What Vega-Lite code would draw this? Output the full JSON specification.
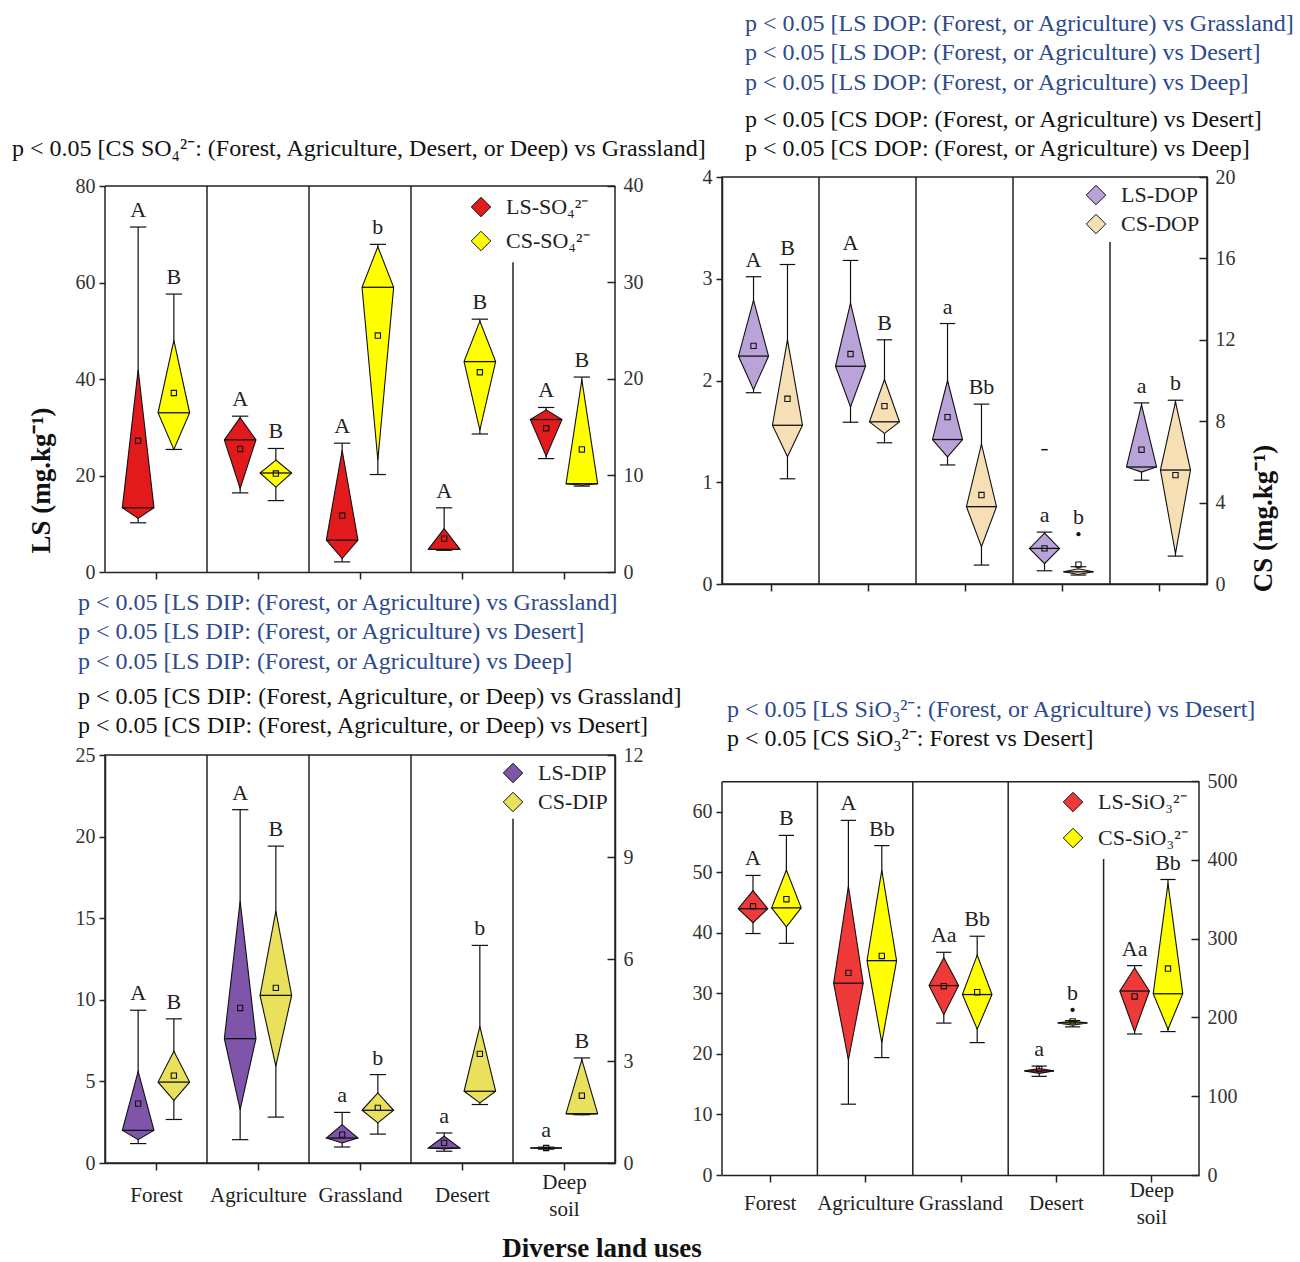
{
  "$schema": "https://vega.github.io/schema/vega-lite/v6.json",
  "padding": {"left": 12, "top": 10, "right": 0, "bottom": 0},
  "background": "white",
  "datasets": {
    "box": [
      {"ion":"SO4","land":"Forest","side":"LS","min":10.2,"q1":11.1,"med":13.3,"q3":41.9,"max":71.5,"mean":27.2,"letter":"A"},
      {"ion":"SO4","land":"Forest","side":"CS","min":12.7,"q1":12.7,"med":16.5,"q3":24.0,"max":28.8,"mean":18.55,"letter":"B"},
      {"ion":"SO4","land":"Agriculture","side":"LS","min":16.4,"q1":17.3,"med":27.4,"q3":32.0,"max":32.3,"mean":25.5,"letter":"A"},
      {"ion":"SO4","land":"Agriculture","side":"CS","min":7.4,"q1":8.8,"med":10.26,"q3":11.6,"max":12.8,"mean":10.2,"letter":"B"},
      {"ion":"SO4","land":"Grassland","side":"LS","min":2.1,"q1":2.8,"med":6.6,"q3":25.2,"max":26.7,"mean":11.7,"letter":"A"},
      {"ion":"SO4","land":"Grassland","side":"CS","min":10.1,"q1":11.6,"med":29.5,"q3":33.7,"max":33.95,"mean":24.5,"letter":"b"},
      {"ion":"SO4","land":"Desert","side":"LS","min":4.5,"q1":4.6,"med":4.7,"q3":9.0,"max":13.3,"mean":6.9,"letter":"A"},
      {"ion":"SO4","land":"Desert","side":"CS","min":14.3,"q1":14.7,"med":21.8,"q3":26.0,"max":26.2,"mean":20.7,"letter":"B"},
      {"ion":"SO4","land":"Deep soil","side":"LS","min":23.5,"q1":24.0,"med":31.6,"q3":33.6,"max":34.1,"mean":29.8,"letter":"A"},
      {"ion":"SO4","land":"Deep soil","side":"CS","min":8.9,"q1":9.0,"med":9.15,"q3":19.9,"max":20.2,"mean":12.7,"letter":"B"},

      {"ion":"DOP","land":"Forest","side":"LS","min":1.88,"q1":1.91,"med":2.24,"q3":2.79,"max":3.02,"mean":2.34,"letter":"A"},
      {"ion":"DOP","land":"Forest","side":"CS","min":5.17,"q1":6.25,"med":7.8,"q3":12.0,"max":15.7,"mean":9.1,"letter":"B"},
      {"ion":"DOP","land":"Agriculture","side":"LS","min":1.59,"q1":1.74,"med":2.14,"q3":2.76,"max":3.18,"mean":2.26,"letter":"A"},
      {"ion":"DOP","land":"Agriculture","side":"CS","min":6.94,"q1":7.4,"med":7.97,"q3":10.05,"max":12.0,"mean":8.74,"letter":"B"},
      {"ion":"DOP","land":"Grassland","side":"LS","min":1.17,"q1":1.25,"med":1.42,"q3":2.0,"max":2.56,"mean":1.64,"letter":"a"},
      {"ion":"DOP","land":"Grassland","side":"CS","min":0.93,"q1":1.83,"med":3.8,"q3":6.87,"max":8.84,"mean":4.37,"letter":"Bb"},
      {"ion":"DOP","land":"Desert","side":"LS","min":0.13,"q1":0.2,"med":0.35,"q3":0.5,"max":0.51,"mean":0.35,"letter":"a"},
      {"ion":"DOP","land":"Desert","side":"CS","min":0.44,"q1":0.47,"med":0.6,"q3":0.75,"max":0.85,"mean":0.95,"letter":"b"},
      {"ion":"DOP","land":"Deep soil","side":"LS","min":1.02,"q1":1.1,"med":1.15,"q3":1.76,"max":1.78,"mean":1.32,"letter":"a"},
      {"ion":"DOP","land":"Deep soil","side":"CS","min":1.37,"q1":1.5,"med":5.6,"q3":8.95,"max":9.03,"mean":5.35,"letter":"b"},

      {"ion":"DIP","land":"Forest","side":"LS","min":1.19,"q1":1.43,"med":2.0,"q3":5.62,"max":9.36,"mean":3.64,"letter":"A"},
      {"ion":"DIP","land":"Forest","side":"CS","min":1.28,"q1":1.84,"med":2.38,"q3":3.29,"max":4.24,"mean":2.57,"letter":"B"},
      {"ion":"DIP","land":"Agriculture","side":"LS","min":1.43,"q1":3.27,"med":7.62,"q3":16.05,"max":21.65,"mean":9.5,"letter":"A"},
      {"ion":"DIP","land":"Agriculture","side":"CS","min":1.35,"q1":2.85,"med":4.93,"q3":7.41,"max":9.32,"mean":5.15,"letter":"B"},
      {"ion":"DIP","land":"Grassland","side":"LS","min":0.98,"q1":1.23,"med":1.53,"q3":2.35,"max":3.1,"mean":1.74,"letter":"a"},
      {"ion":"DIP","land":"Grassland","side":"CS","min":0.85,"q1":1.18,"med":1.55,"q3":2.06,"max":2.6,"mean":1.62,"letter":"b"},
      {"ion":"DIP","land":"Desert","side":"LS","min":0.72,"q1":0.86,"med":0.92,"q3":1.64,"max":1.84,"mean":1.23,"letter":"a"},
      {"ion":"DIP","land":"Desert","side":"CS","min":1.72,"q1":1.77,"med":2.11,"q3":4.02,"max":6.4,"mean":3.21,"letter":"b"},
      {"ion":"DIP","land":"Deep soil","side":"LS","min":0.85,"q1":0.88,"med":0.92,"q3":0.95,"max":0.97,"mean":0.92,"letter":"a"},
      {"ion":"DIP","land":"Deep soil","side":"CS","min":1.42,"q1":1.42,"med":1.45,"q3":3.04,"max":3.09,"mean":1.98,"letter":"B"},

      {"ion":"SiO3","land":"Forest","side":"LS","min":39.9,"q1":41.7,"med":44.0,"q3":47.0,"max":49.5,"mean":44.4,"letter":"A"},
      {"ion":"SiO3","land":"Forest","side":"CS","min":294,"q1":315,"med":339,"q3":387,"max":431,"mean":350,"letter":"B"},
      {"ion":"SiO3","land":"Agriculture","side":"LS","min":11.7,"q1":19.0,"med":31.7,"q3":47.7,"max":58.6,"mean":33.4,"letter":"A"},
      {"ion":"SiO3","land":"Agriculture","side":"CS","min":149,"q1":168,"med":272,"q3":387,"max":418,"mean":278,"letter":"Bb"},
      {"ion":"SiO3","land":"Grassland","side":"LS","min":25.1,"q1":26.5,"med":31.3,"q3":35.9,"max":36.8,"mean":31.2,"letter":"Aa"},
      {"ion":"SiO3","land":"Grassland","side":"CS","min":168,"q1":185,"med":229,"q3":279,"max":303,"mean":232,"letter":"Bb"},
      {"ion":"SiO3","land":"Desert","side":"LS","min":16.3,"q1":16.8,"med":17.2,"q3":17.6,"max":18.0,"mean":17.5,"letter":"a"},
      {"ion":"SiO3","land":"Desert","side":"CS","min":188,"q1":190,"med":193,"q3":195,"max":196,"mean":195,"letter":"b"},
      {"ion":"SiO3","land":"Deep soil","side":"LS","min":23.3,"q1":23.7,"med":30.4,"q3":34.2,"max":34.6,"mean":29.5,"letter":"Aa"},
      {"ion":"SiO3","land":"Deep soil","side":"CS","min":182,"q1":185,"med":230,"q3":370,"max":375,"mean":262,"letter":"Bb"}
    ],
    "out": [
      {"key":"DOP|LS|Desert","ion":"DOP","land":"Desert","side":"LS","value":1.32},
      {"key":"DOP|CS|Desert","ion":"DOP","land":"Desert","side":"CS","value":2.45},
      {"key":"SiO3|CS|Desert","ion":"SiO3","land":"Desert","side":"CS","value":209.5}
    ]
  },
  "title": {"text": "Diverse land uses", "orient": "bottom", "anchor": "middle", "frame": "bounds", "fontSize": 27, "fontWeight": "bold", "color": "#111", "dx": -52, "offset": 9},
  "columns": 2,
  "bounds": "flush",
  "align": "all",
  "spacing": {"row": 158, "column": 107},
  "resolve": {"scale": {"color": "independent", "y": "independent", "x": "independent"}, "legend": {"color": "independent"}},
  "concat": [
    {
      "width": 510, "height": 395,
      "view": {"stroke": null},
      "title": {"text": "p < 0.05 [CS SO₄²⁻: (Forest, Agriculture, Desert, or Deep) vs Grassland]", "color": "#111", "dx": -93, "offset": 15},
      "layer": [
        {"data": {"values": [{"b":-0.5},{"b":0.5},{"b":1.5},{"b":2.5},{"b":4.5}]},
         "mark": {"type":"rule","color":"#222","strokeWidth":1.5},
         "encoding": {"x": {"field":"b","type":"quantitative","scale":{"domain":[-0.5,4.5],"nice":false,"zero":false},"axis":{"values":[0,1,2,3,4],"labels":false,"title":null,"tickSize":7}},
                      "y": {"datum":80,"type":"quantitative","scale":{"domain":[0,81.87],"nice":false},"axis":null},
                      "y2": {"datum":0}}},
        {"data": {"values": [{"a":1}]},
         "mark": {"type":"rule","color":"#222","strokeWidth":1.5},
         "encoding": {"x": {"datum":-0.5,"type":"quantitative","scale":{"domain":[-0.5,4.5],"nice":false,"zero":false}},
                      "x2": {"datum":4.5},
                      "y": {"datum":80,"type":"quantitative","scale":{"domain":[0,81.87],"nice":false},"axis":null}}},
        {"data": {"values": [{"a":1}]},
         "mark": {"type":"rule","color":"#222","strokeWidth":1.5},
         "encoding": {"x": {"datum":3.5,"type":"quantitative","scale":{"domain":[-0.5,4.5],"nice":false,"zero":false}},
                      "y": {"datum":64.2,"type":"quantitative","scale":{"domain":[0,81.87],"nice":false},"axis":null},
                      "y2": {"datum":0}}},
        {"data": {"name":"box"},
         "transform": [
           {"filter":"datum.ion == 'SO4' && datum.side == 'LS'"},
           {"calculate":"indexof(['Forest','Agriculture','Grassland','Desert','Deep soil'], datum.land) - 0.175","as":"pos"},
           {"calculate":"datum.pos - 0.08","as":"cl"},{"calculate":"datum.pos + 0.08","as":"cr"},
           {"calculate":"datum.pos - 0.155","as":"ml"},{"calculate":"datum.pos + 0.155","as":"mr"}
         ],
         "layer": [
           {"mark":{"type":"rule","color":"#111","strokeWidth":1.2},
            "encoding":{"x":{"field":"pos","type":"quantitative","scale":{"domain":[-0.5,4.5],"nice":false,"zero":false}},
                        "y":{"field":"min","type":"quantitative","scale":{"domain":[0,81.87],"nice":false},"axis":{"orient":"left","values":[0,20,40,60,80],"format":"d","domain":false,"title":"LS (mg.kg⁻¹)","tickSize":6,"labelPadding":4,"titleFontSize":27,"titleFontWeight":"bold","titlePadding":20,"titleY":303}},
                        "y2":{"field":"max"}}},
           {"transform":[{"fold":["min","max"],"as":["ck","cv"]}],
            "mark":{"type":"rule","color":"#111","strokeWidth":1.2},
            "encoding":{"x":{"field":"cl","type":"quantitative","scale":{"domain":[-0.5,4.5],"nice":false,"zero":false}},"x2":{"field":"cr"},
                        "y":{"field":"cv","type":"quantitative","scale":{"domain":[0,81.87],"nice":false}}}},
           {"transform":[{"fold":["q1","med","q3"],"as":["k","v"]},{"calculate":"datum.k == 'med' ? 0.155 : 0","as":"hw"},{"calculate":"datum.pos - datum.hw","as":"xl"},{"calculate":"datum.pos + datum.hw","as":"xr"}],
            "mark":{"type":"area","orient":"horizontal","stroke":"#111","strokeWidth":1.1,"opacity":1},
            "encoding":{"y":{"field":"v","type":"quantitative","scale":{"domain":[0,81.87],"nice":false}},
                        "x":{"field":"xl","type":"quantitative","scale":{"domain":[-0.5,4.5],"nice":false,"zero":false}},"x2":{"field":"xr"},
                        "detail":{"field":"land"},
                        "color":{"field":"side","type":"nominal","scale":{"domain":["LS","CS"],"range":["#e31a1c","#ffff00"]},
                                 "legend":{"title":null,"orient":"none","legendX":365,"legendY":19,"symbolType":"diamond","symbolSize":380,"symbolStrokeColor":"#111","symbolStrokeWidth":1,"labelFontSize":22,"labelFont":"Liberation Serif","labelColor":"#222","rowPadding":10,"labelOffset":14,"labelExpr":"datum.label == 'LS' ? 'LS-SO₄²⁻' : 'CS-SO₄²⁻'"}}}},
           {"mark":{"type":"rule","color":"#111","strokeWidth":1.3},
            "encoding":{"x":{"field":"ml","type":"quantitative","scale":{"domain":[-0.5,4.5],"nice":false,"zero":false}},"x2":{"field":"mr"},
                        "y":{"field":"med","type":"quantitative","scale":{"domain":[0,81.87],"nice":false}}}},
           {"mark":{"type":"point","shape":"square","size":28,"filled":false,"stroke":"#111","strokeWidth":1.1,"opacity":1},
            "encoding":{"x":{"field":"pos","type":"quantitative","scale":{"domain":[-0.5,4.5],"nice":false,"zero":false}},
                        "y":{"field":"mean","type":"quantitative","scale":{"domain":[0,81.87],"nice":false}}}},
           {"mark":{"type":"text","baseline":"bottom","dy":-5,"fontSize":22,"color":"#222"},
            "encoding":{"x":{"field":"pos","type":"quantitative","scale":{"domain":[-0.5,4.5],"nice":false,"zero":false}},
                        "y":{"field":"max","type":"quantitative","scale":{"domain":[0,81.87],"nice":false}},
                        "text":{"field":"letter"}}}
         ]},
        {"data": {"name":"box"},
         "transform": [
           {"filter":"datum.ion == 'SO4' && datum.side == 'CS'"},
           {"calculate":"indexof(['Forest','Agriculture','Grassland','Desert','Deep soil'], datum.land) + 0.175","as":"pos"},
           {"calculate":"datum.pos - 0.08","as":"cl"},{"calculate":"datum.pos + 0.08","as":"cr"},
           {"calculate":"datum.pos - 0.155","as":"ml"},{"calculate":"datum.pos + 0.155","as":"mr"}
         ],
         "layer": [
           {"mark":{"type":"rule","color":"#111","strokeWidth":1.2},
            "encoding":{"x":{"field":"pos","type":"quantitative","scale":{"domain":[-0.5,4.5],"nice":false,"zero":false}},
                        "y":{"field":"min","type":"quantitative","scale":{"domain":[0,40.93],"nice":false},"axis":{"orient":"right","values":[0,10,20,30,40],"format":"d","domain":false,"title":null,"tickSize":-8,"labelPadding":16}},
                        "y2":{"field":"max"}}},
           {"transform":[{"fold":["min","max"],"as":["ck","cv"]}],
            "mark":{"type":"rule","color":"#111","strokeWidth":1.2},
            "encoding":{"x":{"field":"cl","type":"quantitative","scale":{"domain":[-0.5,4.5],"nice":false,"zero":false}},"x2":{"field":"cr"},
                        "y":{"field":"cv","type":"quantitative","scale":{"domain":[0,40.93],"nice":false}}}},
           {"transform":[{"fold":["q1","med","q3"],"as":["k","v"]},{"calculate":"datum.k == 'med' ? 0.155 : 0","as":"hw"},{"calculate":"datum.pos - datum.hw","as":"xl"},{"calculate":"datum.pos + datum.hw","as":"xr"}],
            "mark":{"type":"area","orient":"horizontal","stroke":"#111","strokeWidth":1.1,"opacity":1},
            "encoding":{"y":{"field":"v","type":"quantitative","scale":{"domain":[0,40.93],"nice":false}},
                        "x":{"field":"xl","type":"quantitative","scale":{"domain":[-0.5,4.5],"nice":false,"zero":false}},"x2":{"field":"xr"},
                        "detail":{"field":"land"},
                        "color":{"field":"side","type":"nominal","scale":{"domain":["LS","CS"],"range":["#e31a1c","#ffff00"]},"legend":null}}},
           {"mark":{"type":"rule","color":"#111","strokeWidth":1.3},
            "encoding":{"x":{"field":"ml","type":"quantitative","scale":{"domain":[-0.5,4.5],"nice":false,"zero":false}},"x2":{"field":"mr"},
                        "y":{"field":"med","type":"quantitative","scale":{"domain":[0,40.93],"nice":false}}}},
           {"mark":{"type":"point","shape":"square","size":28,"filled":false,"stroke":"#111","strokeWidth":1.1,"opacity":1},
            "encoding":{"x":{"field":"pos","type":"quantitative","scale":{"domain":[-0.5,4.5],"nice":false,"zero":false}},
                        "y":{"field":"mean","type":"quantitative","scale":{"domain":[0,40.93],"nice":false}}}},
           {"mark":{"type":"text","baseline":"bottom","dy":-5,"fontSize":22,"color":"#222"},
            "encoding":{"x":{"field":"pos","type":"quantitative","scale":{"domain":[-0.5,4.5],"nice":false,"zero":false}},
                        "y":{"field":"max","type":"quantitative","scale":{"domain":[0,40.93],"nice":false}},
                        "text":{"field":"letter"}}}
         ]}
      ],
      "resolve": {"scale": {"y": "independent"}}
    },
    {
      "width": 485, "height": 407,
      "title": {"text": ["p < 0.05 [LS DOP: (Forest, or Agriculture) vs Grassland]", "p < 0.05 [LS DOP: (Forest, or Agriculture) vs Desert]", "p < 0.05 [LS DOP: (Forest, or Agriculture) vs Deep]"], "subtitle": ["p < 0.05 [CS DOP: (Forest, or Agriculture) vs Desert]", "p < 0.05 [CS DOP: (Forest, or Agriculture) vs Deep]"], "dx": 23, "offset": 6},
      "layer": [
        {"data": {"values": [{"b":0.5},{"b":1.5},{"b":2.5}]},
         "mark": {"type":"rule","color":"#222","strokeWidth":1.5},
         "encoding": {"x": {"field":"b","type":"quantitative","scale":{"domain":[-0.5,4.5],"nice":false,"zero":false},"axis":{"values":[0,1,2,3,4],"labels":false,"title":null,"tickSize":7}}}},
        {"data": {"values": [{"a":1}]},
         "mark": {"type":"rule","color":"#222","strokeWidth":1.5},
         "encoding": {"x": {"datum":3.5,"type":"quantitative","scale":{"domain":[-0.5,4.5],"nice":false,"zero":false}},
                      "y": {"datum":3.36,"type":"quantitative","scale":{"domain":[0,4],"nice":false},"axis":null},
                      "y2": {"datum":0}}},
        {"data": {"name":"out"},
         "transform": [{"filter":"datum.ion == 'DOP' && datum.side == 'LS'"},{"calculate":"indexof(['Forest','Agriculture','Grassland','Desert','Deep soil'], datum.land) - 0.175","as":"pos"}],
         "mark": {"type":"point","shape":"stroke","size":40,"stroke":"#111","strokeWidth":1.5,"opacity":1},
         "encoding": {"x": {"field":"pos","type":"quantitative","scale":{"domain":[-0.5,4.5],"nice":false,"zero":false}},
                      "y": {"field":"value","type":"quantitative","scale":{"domain":[0,4],"nice":false},"axis":null}}},
        {"data": {"name":"out"},
         "transform": [{"filter":"datum.ion == 'DOP' && datum.side == 'CS'"},{"calculate":"indexof(['Forest','Agriculture','Grassland','Desert','Deep soil'], datum.land) + 0.175","as":"pos"}],
         "mark": {"type":"point","shape":"circle","size":18,"filled":true,"color":"#111","opacity":1},
         "encoding": {"x": {"field":"pos","type":"quantitative","scale":{"domain":[-0.5,4.5],"nice":false,"zero":false}},
                      "y": {"field":"value","type":"quantitative","scale":{"domain":[0,20],"nice":false},"axis":null}}},
        {"data": {"name":"box"},
         "transform": [
           {"filter":"datum.ion == 'DOP' && datum.side == 'LS'"},
           {"calculate":"indexof(['Forest','Agriculture','Grassland','Desert','Deep soil'], datum.land) - 0.175","as":"pos"},
           {"calculate":"datum.pos - 0.08","as":"cl"},{"calculate":"datum.pos + 0.08","as":"cr"},
           {"calculate":"datum.pos - 0.155","as":"ml"},{"calculate":"datum.pos + 0.155","as":"mr"}
         ],
         "layer": [
           {"mark":{"type":"rule","color":"#111","strokeWidth":1.2},
            "encoding":{"x":{"field":"pos","type":"quantitative","scale":{"domain":[-0.5,4.5],"nice":false,"zero":false}},
                        "y":{"field":"min","type":"quantitative","scale":{"domain":[0,4],"nice":false},"axis":{"orient":"left","values":[0,1,2,3,4],"format":"d","title":null,"tickSize":6,"labelPadding":4}},
                        "y2":{"field":"max"}}},
           {"transform":[{"fold":["min","max"],"as":["ck","cv"]}],
            "mark":{"type":"rule","color":"#111","strokeWidth":1.2},
            "encoding":{"x":{"field":"cl","type":"quantitative","scale":{"domain":[-0.5,4.5],"nice":false,"zero":false}},"x2":{"field":"cr"},
                        "y":{"field":"cv","type":"quantitative","scale":{"domain":[0,4],"nice":false}}}},
           {"transform":[{"fold":["q1","med","q3"],"as":["k","v"]},{"calculate":"datum.k == 'med' ? 0.155 : 0","as":"hw"},{"calculate":"datum.pos - datum.hw","as":"xl"},{"calculate":"datum.pos + datum.hw","as":"xr"}],
            "mark":{"type":"area","orient":"horizontal","stroke":"#111","strokeWidth":1.1,"opacity":1},
            "encoding":{"y":{"field":"v","type":"quantitative","scale":{"domain":[0,4],"nice":false}},
                        "x":{"field":"xl","type":"quantitative","scale":{"domain":[-0.5,4.5],"nice":false,"zero":false}},"x2":{"field":"xr"},
                        "detail":{"field":"land"},
                        "color":{"field":"side","type":"nominal","scale":{"domain":["LS","CS"],"range":["#b9a3d9","#f7dfb5"]},
                                 "legend":{"title":null,"orient":"top-right","offset":7,"symbolType":"diamond","symbolSize":380,"symbolStrokeColor":"#111","symbolStrokeWidth":1,"labelFontSize":22,"labelFont":"Liberation Serif","labelColor":"#222","rowPadding":5,"labelOffset":14,"labelExpr":"datum.label == 'LS' ? 'LS-DOP' : 'CS-DOP'"}}}},
           {"mark":{"type":"rule","color":"#111","strokeWidth":1.3},
            "encoding":{"x":{"field":"ml","type":"quantitative","scale":{"domain":[-0.5,4.5],"nice":false,"zero":false}},"x2":{"field":"mr"},
                        "y":{"field":"med","type":"quantitative","scale":{"domain":[0,4],"nice":false}}}},
           {"mark":{"type":"point","shape":"square","size":28,"filled":false,"stroke":"#111","strokeWidth":1.1,"opacity":1},
            "encoding":{"x":{"field":"pos","type":"quantitative","scale":{"domain":[-0.5,4.5],"nice":false,"zero":false}},
                        "y":{"field":"mean","type":"quantitative","scale":{"domain":[0,4],"nice":false}}}},
           {"mark":{"type":"text","baseline":"bottom","dy":-5,"fontSize":22,"color":"#222"},
            "encoding":{"x":{"field":"pos","type":"quantitative","scale":{"domain":[-0.5,4.5],"nice":false,"zero":false}},
                        "y":{"field":"max","type":"quantitative","scale":{"domain":[0,4],"nice":false}},
                        "text":{"field":"letter"}}}
         ]},
        {"data": {"name":"box"},
         "transform": [
           {"filter":"datum.ion == 'DOP' && datum.side == 'CS'"},
           {"calculate":"indexof(['Forest','Agriculture','Grassland','Desert','Deep soil'], datum.land) + 0.175","as":"pos"},
           {"calculate":"datum.pos - 0.08","as":"cl"},{"calculate":"datum.pos + 0.08","as":"cr"},
           {"calculate":"datum.pos - 0.155","as":"ml"},{"calculate":"datum.pos + 0.155","as":"mr"},
           {"calculate":"datum.ion + '|' + datum.side + '|' + datum.land","as":"key"},
           {"lookup":"key","from":{"data":{"name":"out"},"key":"key","fields":["value"]}},
           {"calculate":"isValid(datum.value) ? max(datum.max, datum.value) : datum.max","as":"ltop"}
         ],
         "layer": [
           {"mark":{"type":"rule","color":"#111","strokeWidth":1.2},
            "encoding":{"x":{"field":"pos","type":"quantitative","scale":{"domain":[-0.5,4.5],"nice":false,"zero":false}},
                        "y":{"field":"min","type":"quantitative","scale":{"domain":[0,20],"nice":false},"axis":{"orient":"right","values":[0,4,8,12,16,20],"format":"d","title":"CS (mg.kg⁻¹)","tickSize":-8,"labelPadding":16,"titleFontSize":27,"titleFontWeight":"bold","titlePadding":15,"titleAngle":270,"titleBaseline":"top","titleY":341}},
                        "y2":{"field":"max"}}},
           {"transform":[{"fold":["min","max"],"as":["ck","cv"]}],
            "mark":{"type":"rule","color":"#111","strokeWidth":1.2},
            "encoding":{"x":{"field":"cl","type":"quantitative","scale":{"domain":[-0.5,4.5],"nice":false,"zero":false}},"x2":{"field":"cr"},
                        "y":{"field":"cv","type":"quantitative","scale":{"domain":[0,20],"nice":false}}}},
           {"transform":[{"fold":["q1","med","q3"],"as":["k","v"]},{"calculate":"datum.k == 'med' ? 0.155 : 0","as":"hw"},{"calculate":"datum.pos - datum.hw","as":"xl"},{"calculate":"datum.pos + datum.hw","as":"xr"}],
            "mark":{"type":"area","orient":"horizontal","stroke":"#111","strokeWidth":1.1,"opacity":1},
            "encoding":{"y":{"field":"v","type":"quantitative","scale":{"domain":[0,20],"nice":false}},
                        "x":{"field":"xl","type":"quantitative","scale":{"domain":[-0.5,4.5],"nice":false,"zero":false}},"x2":{"field":"xr"},
                        "detail":{"field":"land"},
                        "color":{"field":"side","type":"nominal","scale":{"domain":["LS","CS"],"range":["#b9a3d9","#f7dfb5"]},"legend":null}}},
           {"mark":{"type":"rule","color":"#111","strokeWidth":1.3},
            "encoding":{"x":{"field":"ml","type":"quantitative","scale":{"domain":[-0.5,4.5],"nice":false,"zero":false}},"x2":{"field":"mr"},
                        "y":{"field":"med","type":"quantitative","scale":{"domain":[0,20],"nice":false}}}},
           {"mark":{"type":"point","shape":"square","size":28,"filled":false,"stroke":"#111","strokeWidth":1.1,"opacity":1},
            "encoding":{"x":{"field":"pos","type":"quantitative","scale":{"domain":[-0.5,4.5],"nice":false,"zero":false}},
                        "y":{"field":"mean","type":"quantitative","scale":{"domain":[0,20],"nice":false}}}},
           {"mark":{"type":"text","baseline":"bottom","dy":-5,"fontSize":22,"color":"#222"},
            "encoding":{"x":{"field":"pos","type":"quantitative","scale":{"domain":[-0.5,4.5],"nice":false,"zero":false}},
                        "y":{"field":"ltop","type":"quantitative","scale":{"domain":[0,20],"nice":false}},
                        "text":{"field":"letter"}}}
         ]}
      ],
      "resolve": {"scale": {"y": "independent"}}
    },
    {
      "width": 510, "height": 408,
      "title": {"text": ["p < 0.05 [LS DIP: (Forest, or Agriculture) vs Grassland]", "p < 0.05 [LS DIP: (Forest, or Agriculture) vs Desert]", "p < 0.05 [LS DIP: (Forest, or Agriculture) vs Deep]"], "subtitle": ["p < 0.05 [CS DIP: (Forest, Agriculture, or Deep) vs Grassland]", "p < 0.05 [CS DIP: (Forest, Agriculture, or Deep) vs Desert]"], "dx": -27, "offset": 7, "subtitlePadding": 11},
      "layer": [
        {"data": {"values": [{"b":0.5},{"b":1.5},{"b":2.5}]},
         "mark": {"type":"rule","color":"#222","strokeWidth":1.5},
         "encoding": {"x": {"field":"b","type":"quantitative","scale":{"domain":[-0.5,4.5],"nice":false,"zero":false},"axis":{"values":[0,1,2,3,4],"title":null,"tickSize":7,"labelExpr":"['Forest','Agriculture','Grassland','Desert',['Deep','soil']][datum.value]","labelBaseline":{"condition":{"test":"datum.value == 4","value":"line-bottom"},"value":"middle"},"labelPadding":25,"labelFontSize":21,"labelLineHeight":27,"labelColor":"#222"}}}},
        {"data": {"values": [{"a":1}]},
         "mark": {"type":"rule","color":"#222","strokeWidth":1.5},
         "encoding": {"x": {"datum":3.5,"type":"quantitative","scale":{"domain":[-0.5,4.5],"nice":false,"zero":false}},
                      "y": {"datum":21.1,"type":"quantitative","scale":{"domain":[0,25],"nice":false},"axis":null},
                      "y2": {"datum":0}}},
        {"data": {"name":"box"},
         "transform": [
           {"filter":"datum.ion == 'DIP' && datum.side == 'LS'"},
           {"calculate":"indexof(['Forest','Agriculture','Grassland','Desert','Deep soil'], datum.land) - 0.175","as":"pos"},
           {"calculate":"datum.pos - 0.08","as":"cl"},{"calculate":"datum.pos + 0.08","as":"cr"},
           {"calculate":"datum.pos - 0.155","as":"ml"},{"calculate":"datum.pos + 0.155","as":"mr"}
         ],
         "layer": [
           {"mark":{"type":"rule","color":"#111","strokeWidth":1.2},
            "encoding":{"x":{"field":"pos","type":"quantitative","scale":{"domain":[-0.5,4.5],"nice":false,"zero":false}},
                        "y":{"field":"min","type":"quantitative","scale":{"domain":[0,25],"nice":false},"axis":{"orient":"left","values":[0,5,10,15,20,25],"format":"d","title":null,"tickSize":6,"labelPadding":4}},
                        "y2":{"field":"max"}}},
           {"transform":[{"fold":["min","max"],"as":["ck","cv"]}],
            "mark":{"type":"rule","color":"#111","strokeWidth":1.2},
            "encoding":{"x":{"field":"cl","type":"quantitative","scale":{"domain":[-0.5,4.5],"nice":false,"zero":false}},"x2":{"field":"cr"},
                        "y":{"field":"cv","type":"quantitative","scale":{"domain":[0,25],"nice":false}}}},
           {"transform":[{"fold":["q1","med","q3"],"as":["k","v"]},{"calculate":"datum.k == 'med' ? 0.155 : 0","as":"hw"},{"calculate":"datum.pos - datum.hw","as":"xl"},{"calculate":"datum.pos + datum.hw","as":"xr"}],
            "mark":{"type":"area","orient":"horizontal","stroke":"#111","strokeWidth":1.1,"opacity":1},
            "encoding":{"y":{"field":"v","type":"quantitative","scale":{"domain":[0,25],"nice":false}},
                        "x":{"field":"xl","type":"quantitative","scale":{"domain":[-0.5,4.5],"nice":false,"zero":false}},"x2":{"field":"xr"},
                        "detail":{"field":"land"},
                        "color":{"field":"side","type":"nominal","scale":{"domain":["LS","CS"],"range":["#7f55aa","#e9e05c"]},
                                 "legend":{"title":null,"orient":"top-right","offset":7,"symbolType":"diamond","symbolSize":380,"symbolStrokeColor":"#111","symbolStrokeWidth":1,"labelFontSize":22,"labelFont":"Liberation Serif","labelColor":"#222","rowPadding":5,"labelOffset":14,"labelExpr":"datum.label == 'LS' ? 'LS-DIP' : 'CS-DIP'"}}}},
           {"mark":{"type":"rule","color":"#111","strokeWidth":1.3},
            "encoding":{"x":{"field":"ml","type":"quantitative","scale":{"domain":[-0.5,4.5],"nice":false,"zero":false}},"x2":{"field":"mr"},
                        "y":{"field":"med","type":"quantitative","scale":{"domain":[0,25],"nice":false}}}},
           {"mark":{"type":"point","shape":"square","size":28,"filled":false,"stroke":"#111","strokeWidth":1.1,"opacity":1},
            "encoding":{"x":{"field":"pos","type":"quantitative","scale":{"domain":[-0.5,4.5],"nice":false,"zero":false}},
                        "y":{"field":"mean","type":"quantitative","scale":{"domain":[0,25],"nice":false}}}},
           {"mark":{"type":"text","baseline":"bottom","dy":-5,"fontSize":22,"color":"#222"},
            "encoding":{"x":{"field":"pos","type":"quantitative","scale":{"domain":[-0.5,4.5],"nice":false,"zero":false}},
                        "y":{"field":"max","type":"quantitative","scale":{"domain":[0,25],"nice":false}},
                        "text":{"field":"letter"}}}
         ]},
        {"data": {"name":"box"},
         "transform": [
           {"filter":"datum.ion == 'DIP' && datum.side == 'CS'"},
           {"calculate":"indexof(['Forest','Agriculture','Grassland','Desert','Deep soil'], datum.land) + 0.175","as":"pos"},
           {"calculate":"datum.pos - 0.08","as":"cl"},{"calculate":"datum.pos + 0.08","as":"cr"},
           {"calculate":"datum.pos - 0.155","as":"ml"},{"calculate":"datum.pos + 0.155","as":"mr"}
         ],
         "layer": [
           {"mark":{"type":"rule","color":"#111","strokeWidth":1.2},
            "encoding":{"x":{"field":"pos","type":"quantitative","scale":{"domain":[-0.5,4.5],"nice":false,"zero":false}},
                        "y":{"field":"min","type":"quantitative","scale":{"domain":[0,12],"nice":false},"axis":{"orient":"right","values":[0,3,6,9,12],"format":"d","title":null,"tickSize":-8,"labelPadding":16}},
                        "y2":{"field":"max"}}},
           {"transform":[{"fold":["min","max"],"as":["ck","cv"]}],
            "mark":{"type":"rule","color":"#111","strokeWidth":1.2},
            "encoding":{"x":{"field":"cl","type":"quantitative","scale":{"domain":[-0.5,4.5],"nice":false,"zero":false}},"x2":{"field":"cr"},
                        "y":{"field":"cv","type":"quantitative","scale":{"domain":[0,12],"nice":false}}}},
           {"transform":[{"fold":["q1","med","q3"],"as":["k","v"]},{"calculate":"datum.k == 'med' ? 0.155 : 0","as":"hw"},{"calculate":"datum.pos - datum.hw","as":"xl"},{"calculate":"datum.pos + datum.hw","as":"xr"}],
            "mark":{"type":"area","orient":"horizontal","stroke":"#111","strokeWidth":1.1,"opacity":1},
            "encoding":{"y":{"field":"v","type":"quantitative","scale":{"domain":[0,12],"nice":false}},
                        "x":{"field":"xl","type":"quantitative","scale":{"domain":[-0.5,4.5],"nice":false,"zero":false}},"x2":{"field":"xr"},
                        "detail":{"field":"land"},
                        "color":{"field":"side","type":"nominal","scale":{"domain":["LS","CS"],"range":["#7f55aa","#e9e05c"]},"legend":null}}},
           {"mark":{"type":"rule","color":"#111","strokeWidth":1.3},
            "encoding":{"x":{"field":"ml","type":"quantitative","scale":{"domain":[-0.5,4.5],"nice":false,"zero":false}},"x2":{"field":"mr"},
                        "y":{"field":"med","type":"quantitative","scale":{"domain":[0,12],"nice":false}}}},
           {"mark":{"type":"point","shape":"square","size":28,"filled":false,"stroke":"#111","strokeWidth":1.1,"opacity":1},
            "encoding":{"x":{"field":"pos","type":"quantitative","scale":{"domain":[-0.5,4.5],"nice":false,"zero":false}},
                        "y":{"field":"mean","type":"quantitative","scale":{"domain":[0,12],"nice":false}}}},
           {"mark":{"type":"text","baseline":"bottom","dy":-5,"fontSize":22,"color":"#222"},
            "encoding":{"x":{"field":"pos","type":"quantitative","scale":{"domain":[-0.5,4.5],"nice":false,"zero":false}},
                        "y":{"field":"max","type":"quantitative","scale":{"domain":[0,12],"nice":false}},
                        "text":{"field":"letter"}}}
         ]}
      ],
      "resolve": {"scale": {"y": "independent"}}
    },
    {
      "width": 477, "height": 420,
      "view": {"stroke": null},
      "title": {"text": "p < 0.05 [LS SiO₃²⁻: (Forest, or Agriculture) vs Desert]", "subtitle": "p < 0.05 [CS SiO₃²⁻: Forest vs Desert]", "dx": 5, "offset": 4, "subtitlePadding": 5},
      "layer": [
        {"data": {"values": [{"b":-0.5},{"b":0.5},{"b":1.5},{"b":2.5},{"b":4.5}]},
         "mark": {"type":"rule","color":"#222","strokeWidth":1.5},
         "encoding": {"x": {"field":"b","type":"quantitative","scale":{"domain":[-0.5,4.5],"nice":false,"zero":false},"axis":{"values":[0,1,2,3,4],"title":null,"tickSize":7,"labelExpr":"['Forest','Agriculture','Grassland','Desert',['Deep','soil']][datum.value]","labelBaseline":{"condition":{"test":"datum.value == 4","value":"line-bottom"},"value":"middle"},"labelPadding":21,"labelFontSize":21,"labelLineHeight":27,"labelColor":"#222"}},
                      "y": {"datum":65,"type":"quantitative","scale":{"domain":[0,69.4],"nice":false},"axis":null},
                      "y2": {"datum":0}}},
        {"data": {"values": [{"a":1}]},
         "mark": {"type":"rule","color":"#222","strokeWidth":1.5},
         "encoding": {"x": {"datum":-0.5,"type":"quantitative","scale":{"domain":[-0.5,4.5],"nice":false,"zero":false}},
                      "x2": {"datum":4.5},
                      "y": {"datum":65,"type":"quantitative","scale":{"domain":[0,69.4],"nice":false},"axis":null}}},
        {"data": {"values": [{"a":1}]},
         "mark": {"type":"rule","color":"#222","strokeWidth":1.5},
         "encoding": {"x": {"datum":3.5,"type":"quantitative","scale":{"domain":[-0.5,4.5],"nice":false,"zero":false}},
                      "y": {"datum":52.2,"type":"quantitative","scale":{"domain":[0,69.4],"nice":false},"axis":null},
                      "y2": {"datum":0}}},
        {"data": {"name":"out"},
         "transform": [{"filter":"datum.ion == 'SiO3' && datum.side == 'CS'"},{"calculate":"indexof(['Forest','Agriculture','Grassland','Desert','Deep soil'], datum.land) + 0.175","as":"pos"}],
         "mark": {"type":"point","shape":"circle","size":18,"filled":true,"color":"#111","opacity":1},
         "encoding": {"x": {"field":"pos","type":"quantitative","scale":{"domain":[-0.5,4.5],"nice":false,"zero":false}},
                      "y": {"field":"value","type":"quantitative","scale":{"domain":[0,533],"nice":false},"axis":null}}},
        {"data": {"name":"box"},
         "transform": [
           {"filter":"datum.ion == 'SiO3' && datum.side == 'LS'"},
           {"calculate":"indexof(['Forest','Agriculture','Grassland','Desert','Deep soil'], datum.land) - 0.175","as":"pos"},
           {"calculate":"datum.pos - 0.08","as":"cl"},{"calculate":"datum.pos + 0.08","as":"cr"},
           {"calculate":"datum.pos - 0.155","as":"ml"},{"calculate":"datum.pos + 0.155","as":"mr"}
         ],
         "layer": [
           {"mark":{"type":"rule","color":"#111","strokeWidth":1.2},
            "encoding":{"x":{"field":"pos","type":"quantitative","scale":{"domain":[-0.5,4.5],"nice":false,"zero":false}},
                        "y":{"field":"min","type":"quantitative","scale":{"domain":[0,69.4],"nice":false},"axis":{"orient":"left","values":[0,10,20,30,40,50,60],"format":"d","title":null,"tickSize":6,"labelPadding":4,"domain":false}},
                        "y2":{"field":"max"}}},
           {"transform":[{"fold":["min","max"],"as":["ck","cv"]}],
            "mark":{"type":"rule","color":"#111","strokeWidth":1.2},
            "encoding":{"x":{"field":"cl","type":"quantitative","scale":{"domain":[-0.5,4.5],"nice":false,"zero":false}},"x2":{"field":"cr"},
                        "y":{"field":"cv","type":"quantitative","scale":{"domain":[0,69.4],"nice":false}}}},
           {"transform":[{"fold":["q1","med","q3"],"as":["k","v"]},{"calculate":"datum.k == 'med' ? 0.155 : 0","as":"hw"},{"calculate":"datum.pos - datum.hw","as":"xl"},{"calculate":"datum.pos + datum.hw","as":"xr"}],
            "mark":{"type":"area","orient":"horizontal","stroke":"#111","strokeWidth":1.1,"opacity":1},
            "encoding":{"y":{"field":"v","type":"quantitative","scale":{"domain":[0,69.4],"nice":false}},
                        "x":{"field":"xl","type":"quantitative","scale":{"domain":[-0.5,4.5],"nice":false,"zero":false}},"x2":{"field":"xr"},
                        "detail":{"field":"land"},
                        "color":{"field":"side","type":"nominal","scale":{"domain":["LS","CS"],"range":["#f03a3a","#ffff00"]},
                                 "legend":{"title":null,"orient":"none","legendX":340,"legendY":36,"symbolType":"diamond","symbolSize":380,"symbolStrokeColor":"#111","symbolStrokeWidth":1,"labelFontSize":22,"labelFont":"Liberation Serif","labelColor":"#222","rowPadding":12,"labelOffset":14,"labelExpr":"datum.label == 'LS' ? 'LS-SiO₃²⁻' : 'CS-SiO₃²⁻'"}}}},
           {"mark":{"type":"rule","color":"#111","strokeWidth":1.3},
            "encoding":{"x":{"field":"ml","type":"quantitative","scale":{"domain":[-0.5,4.5],"nice":false,"zero":false}},"x2":{"field":"mr"},
                        "y":{"field":"med","type":"quantitative","scale":{"domain":[0,69.4],"nice":false}}}},
           {"mark":{"type":"point","shape":"square","size":28,"filled":false,"stroke":"#111","strokeWidth":1.1,"opacity":1},
            "encoding":{"x":{"field":"pos","type":"quantitative","scale":{"domain":[-0.5,4.5],"nice":false,"zero":false}},
                        "y":{"field":"mean","type":"quantitative","scale":{"domain":[0,69.4],"nice":false}}}},
           {"mark":{"type":"text","baseline":"bottom","dy":-5,"fontSize":22,"color":"#222"},
            "encoding":{"x":{"field":"pos","type":"quantitative","scale":{"domain":[-0.5,4.5],"nice":false,"zero":false}},
                        "y":{"field":"max","type":"quantitative","scale":{"domain":[0,69.4],"nice":false}},
                        "text":{"field":"letter"}}}
         ]},
        {"data": {"name":"box"},
         "transform": [
           {"filter":"datum.ion == 'SiO3' && datum.side == 'CS'"},
           {"calculate":"indexof(['Forest','Agriculture','Grassland','Desert','Deep soil'], datum.land) + 0.175","as":"pos"},
           {"calculate":"datum.pos - 0.08","as":"cl"},{"calculate":"datum.pos + 0.08","as":"cr"},
           {"calculate":"datum.pos - 0.155","as":"ml"},{"calculate":"datum.pos + 0.155","as":"mr"},
           {"calculate":"datum.ion + '|' + datum.side + '|' + datum.land","as":"key"},
           {"lookup":"key","from":{"data":{"name":"out"},"key":"key","fields":["value"]}},
           {"calculate":"isValid(datum.value) ? max(datum.max, datum.value) : datum.max","as":"ltop"}
         ],
         "layer": [
           {"mark":{"type":"rule","color":"#111","strokeWidth":1.2},
            "encoding":{"x":{"field":"pos","type":"quantitative","scale":{"domain":[-0.5,4.5],"nice":false,"zero":false}},
                        "y":{"field":"min","type":"quantitative","scale":{"domain":[0,533],"nice":false},"axis":{"orient":"right","values":[0,100,200,300,400,500],"format":"d","title":null,"tickSize":-8,"labelPadding":16,"domain":false}},
                        "y2":{"field":"max"}}},
           {"transform":[{"fold":["min","max"],"as":["ck","cv"]}],
            "mark":{"type":"rule","color":"#111","strokeWidth":1.2},
            "encoding":{"x":{"field":"cl","type":"quantitative","scale":{"domain":[-0.5,4.5],"nice":false,"zero":false}},"x2":{"field":"cr"},
                        "y":{"field":"cv","type":"quantitative","scale":{"domain":[0,533],"nice":false}}}},
           {"transform":[{"fold":["q1","med","q3"],"as":["k","v"]},{"calculate":"datum.k == 'med' ? 0.155 : 0","as":"hw"},{"calculate":"datum.pos - datum.hw","as":"xl"},{"calculate":"datum.pos + datum.hw","as":"xr"}],
            "mark":{"type":"area","orient":"horizontal","stroke":"#111","strokeWidth":1.1,"opacity":1},
            "encoding":{"y":{"field":"v","type":"quantitative","scale":{"domain":[0,533],"nice":false}},
                        "x":{"field":"xl","type":"quantitative","scale":{"domain":[-0.5,4.5],"nice":false,"zero":false}},"x2":{"field":"xr"},
                        "detail":{"field":"land"},
                        "color":{"field":"side","type":"nominal","scale":{"domain":["LS","CS"],"range":["#f03a3a","#ffff00"]},"legend":null}}},
           {"mark":{"type":"rule","color":"#111","strokeWidth":1.3},
            "encoding":{"x":{"field":"ml","type":"quantitative","scale":{"domain":[-0.5,4.5],"nice":false,"zero":false}},"x2":{"field":"mr"},
                        "y":{"field":"med","type":"quantitative","scale":{"domain":[0,533],"nice":false}}}},
           {"mark":{"type":"point","shape":"square","size":28,"filled":false,"stroke":"#111","strokeWidth":1.1,"opacity":1},
            "encoding":{"x":{"field":"pos","type":"quantitative","scale":{"domain":[-0.5,4.5],"nice":false,"zero":false}},
                        "y":{"field":"mean","type":"quantitative","scale":{"domain":[0,533],"nice":false}}}},
           {"mark":{"type":"text","baseline":"bottom","dy":-5,"fontSize":22,"color":"#222"},
            "encoding":{"x":{"field":"pos","type":"quantitative","scale":{"domain":[-0.5,4.5],"nice":false,"zero":false}},
                        "y":{"field":"ltop","type":"quantitative","scale":{"domain":[0,533],"nice":false}},
                        "text":{"field":"letter"}}}
         ]}
      ],
      "resolve": {"scale": {"y": "independent"}}
    }
  ],
  "config": {
    "font": "Liberation Serif",
    "view": {"stroke": "#222", "strokeWidth": 1.5},
    "axis": {"labelFont": "Liberation Serif", "labelFontSize": 20, "labelColor": "#333", "domainColor": "#222", "domainWidth": 1.5, "tickColor": "#222", "tickWidth": 1.5, "grid": false, "titleFont": "Liberation Serif", "titleColor": "#111"},
    "title": {"font": "Liberation Serif", "fontSize": 24, "fontWeight": "normal", "color": "#2c4a8c", "subtitleFont": "Liberation Serif", "subtitleFontSize": 24, "subtitleColor": "#111", "lineHeight": 29.5, "subtitleLineHeight": 29.5, "subtitlePadding": 13, "anchor": "start", "frame": "group"},
    "text": {"font": "Liberation Serif"}
  }
}
